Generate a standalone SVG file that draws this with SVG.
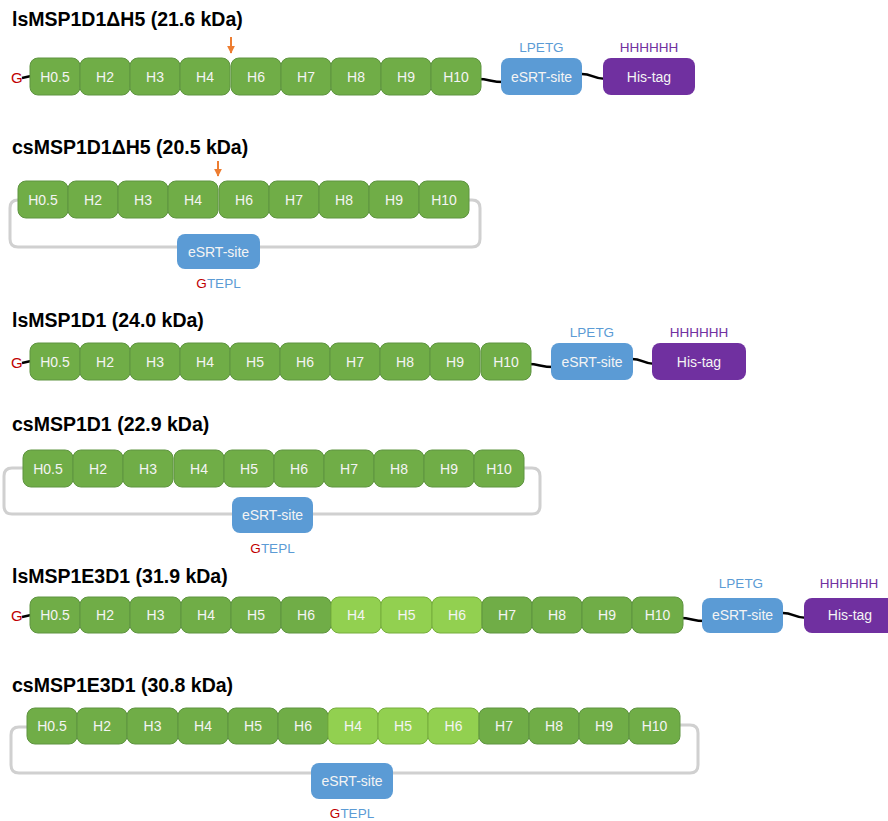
<svg xmlns="http://www.w3.org/2000/svg" width="888" height="821" viewBox="0 0 888 821">
<style>
.t{font-family:"Liberation Sans",Arial,sans-serif;font-weight:bold;font-size:19.5px;fill:#000}
.b rect{fill:#70AD47;stroke:#5E9440;stroke-width:1}
.b.l rect{fill:#92D050;stroke:#76AE3C}
.b text,.e text,.h text{font-family:"Liberation Sans",Arial,sans-serif;font-size:14px;fill:#F4F4F4;text-anchor:middle}
.e rect{fill:#5B9BD5}
.h rect{fill:#7030A0}
.e text.lab,.h text.lab{font-size:13.5px}
.e text.bl,.e tspan.bl{fill:#5B9BD5}
.h text.pu{fill:#7030A0}
.e tspan.rd{fill:#C00000}
.g{font-family:"Liberation Sans",Arial,sans-serif;font-size:15px;fill:#C00000}
.lp{fill:none;stroke:#D0D0D0;stroke-width:3}
.k{fill:none;stroke:#000;stroke-width:2.5}
.ar{stroke:#ED7D31;stroke-width:2;fill:none}
</style>
<defs>
<marker id="ah" viewBox="0 0 10 10" refX="9" refY="5" markerWidth="4" markerHeight="4" orient="auto" markerUnits="strokeWidth"><path d="M0,0 L10,5 L0,10 z" fill="#ED7D31"/></marker>
</defs>

<!-- titles -->
<text class="t" x="12" y="26">lsMSP1D1ΔH5 (21.6 kDa)</text>
<text class="t" x="12" y="154">csMSP1D1ΔH5 (20.5 kDa)</text>
<text class="t" x="12" y="327">lsMSP1D1 (24.0 kDa)</text>
<text class="t" x="12" y="431">csMSP1D1 (22.9 kDa)</text>
<text class="t" x="12" y="583">lsMSP1E3D1 (31.9 kDa)</text>
<text class="t" x="12" y="692">csMSP1E3D1 (30.8 kDa)</text>

<g id="connectors">
<path class="lp" d="M30 200 H18 Q10 200 10 208 V239 Q10 247 18 247 H472 Q480 247 480 239 V208 Q480 200 472 200 H460"/>
<path class="lp" d="M35 468 H12 Q4 468 4 476 V506 Q4 514 12 514 H532 Q540 514 540 506 V476 Q540 468 532 468 H515"/>
<path class="lp" d="M40 727 H19 Q11 727 11 735 V765 Q11 773 19 773 H690 Q698 773 698 765 V733 Q698 725 690 725 H672"/>
<path class="k" d="M22 78 L31 76"/>
<path class="k" d="M22 363 L31 361"/>
<path class="k" d="M22 617 L31 615"/>
<path class="k" d="M478 79 C490 79 490 82 504 82"/>
<path class="k" d="M580 74 C592 73 592 79 606 79"/>
<path class="k" d="M528 364 C540 364 540 367 554 367"/>
<path class="k" d="M630 359 C642 358 642 364 655 364"/>
<path class="k" d="M680 618 C692 618 692 621 705 621"/>
<path class="k" d="M781 613 C793 612 793 618 807 618"/>
<path class="ar" d="M231 37 V53" marker-end="url(#ah)"/>
<path class="ar" d="M218 161 V176" marker-end="url(#ah)"/>
</g>

<!-- Row 1 -->
<text class="g" x="11" y="83">G</text>
<g id="r1-h05" class="b"><rect x="30" y="58" width="50" height="37" rx="8"/><text x="55" y="81.5">H0.5</text></g>
<g id="r1-h2" class="b"><rect x="80" y="58" width="50" height="37" rx="8"/><text x="105" y="81.5">H2</text></g>
<g id="r1-h3" class="b"><rect x="130" y="58" width="50" height="37" rx="8"/><text x="155" y="81.5">H3</text></g>
<g id="r1-h4" class="b"><rect x="180" y="58" width="50" height="37" rx="8"/><text x="205" y="81.5">H4</text></g>
<g id="r1-h6" class="b"><rect x="231" y="58" width="50" height="37" rx="8"/><text x="256" y="81.5">H6</text></g>
<g id="r1-h7" class="b"><rect x="281" y="58" width="50" height="37" rx="8"/><text x="306" y="81.5">H7</text></g>
<g id="r1-h8" class="b"><rect x="331" y="58" width="50" height="37" rx="8"/><text x="356" y="81.5">H8</text></g>
<g id="r1-h9" class="b"><rect x="381" y="58" width="50" height="37" rx="8"/><text x="406" y="81.5">H9</text></g>
<g id="r1-h10" class="b"><rect x="431" y="58" width="50" height="37" rx="8"/><text x="456" y="81.5">H10</text></g>
<g id="r1-esrt" class="e"><rect x="501" y="58" width="81" height="37" rx="8"/><text x="541.5" y="81.5">eSRT-site</text><text class="lab bl" x="541.5" y="52">LPETG</text></g>
<g id="r1-his" class="h"><rect x="603" y="58" width="92" height="37" rx="8"/><text x="649" y="81.5">His-tag</text><text class="lab pu" x="649" y="52">HHHHHH</text></g>

<!-- Row 2 -->
<g id="r2-h05" class="b"><rect x="18" y="181" width="50" height="37" rx="8"/><text x="43" y="204.5">H0.5</text></g>
<g id="r2-h2" class="b"><rect x="68" y="181" width="50" height="37" rx="8"/><text x="93" y="204.5">H2</text></g>
<g id="r2-h3" class="b"><rect x="118" y="181" width="50" height="37" rx="8"/><text x="143" y="204.5">H3</text></g>
<g id="r2-h4" class="b"><rect x="168" y="181" width="50" height="37" rx="8"/><text x="193" y="204.5">H4</text></g>
<g id="r2-h6" class="b"><rect x="219" y="181" width="50" height="37" rx="8"/><text x="244" y="204.5">H6</text></g>
<g id="r2-h7" class="b"><rect x="269" y="181" width="50" height="37" rx="8"/><text x="294" y="204.5">H7</text></g>
<g id="r2-h8" class="b"><rect x="319" y="181" width="50" height="37" rx="8"/><text x="344" y="204.5">H8</text></g>
<g id="r2-h9" class="b"><rect x="369" y="181" width="50" height="37" rx="8"/><text x="394" y="204.5">H9</text></g>
<g id="r2-h10" class="b"><rect x="419" y="181" width="50" height="37" rx="8"/><text x="444" y="204.5">H10</text></g>
<g id="r2-esrt" class="e"><rect x="177" y="234" width="83" height="35" rx="8"/><text x="218.5" y="256.5">eSRT-site</text><text class="lab" x="218.5" y="288"><tspan class="rd">G</tspan><tspan class="bl">TEPL</tspan></text></g>

<!-- Row 3 -->
<text class="g" x="11" y="368">G</text>
<g id="r3-h05" class="b"><rect x="30" y="343" width="50" height="37" rx="8"/><text x="55" y="366.5">H0.5</text></g>
<g id="r3-h2" class="b"><rect x="80" y="343" width="50" height="37" rx="8"/><text x="105" y="366.5">H2</text></g>
<g id="r3-h3" class="b"><rect x="130" y="343" width="50" height="37" rx="8"/><text x="155" y="366.5">H3</text></g>
<g id="r3-h4" class="b"><rect x="180" y="343" width="50" height="37" rx="8"/><text x="205" y="366.5">H4</text></g>
<g id="r3-h5" class="b"><rect x="230" y="343" width="50" height="37" rx="8"/><text x="255" y="366.5">H5</text></g>
<g id="r3-h6" class="b"><rect x="280" y="343" width="50" height="37" rx="8"/><text x="305" y="366.5">H6</text></g>
<g id="r3-h7" class="b"><rect x="330" y="343" width="50" height="37" rx="8"/><text x="355" y="366.5">H7</text></g>
<g id="r3-h8" class="b"><rect x="380" y="343" width="50" height="37" rx="8"/><text x="405" y="366.5">H8</text></g>
<g id="r3-h9" class="b"><rect x="430" y="343" width="50" height="37" rx="8"/><text x="455" y="366.5">H9</text></g>
<g id="r3-h10" class="b"><rect x="481" y="343" width="50" height="37" rx="8"/><text x="506" y="366.5">H10</text></g>
<g id="r3-esrt" class="e"><rect x="551" y="343" width="82" height="37" rx="8"/><text x="592" y="366.5">eSRT-site</text><text class="lab bl" x="592" y="337">LPETG</text></g>
<g id="r3-his" class="h"><rect x="652" y="343" width="94" height="37" rx="8"/><text x="699" y="366.5">His-tag</text><text class="lab pu" x="699" y="337">HHHHHH</text></g>

<!-- Row 4 -->
<g id="r4-h05" class="b"><rect x="23" y="450" width="50" height="37" rx="8"/><text x="48" y="473.5">H0.5</text></g>
<g id="r4-h2" class="b"><rect x="73" y="450" width="50" height="37" rx="8"/><text x="98" y="473.5">H2</text></g>
<g id="r4-h3" class="b"><rect x="123" y="450" width="50" height="37" rx="8"/><text x="148" y="473.5">H3</text></g>
<g id="r4-h4" class="b"><rect x="174" y="450" width="50" height="37" rx="8"/><text x="199" y="473.5">H4</text></g>
<g id="r4-h5" class="b"><rect x="224" y="450" width="50" height="37" rx="8"/><text x="249" y="473.5">H5</text></g>
<g id="r4-h6" class="b"><rect x="274" y="450" width="50" height="37" rx="8"/><text x="299" y="473.5">H6</text></g>
<g id="r4-h7" class="b"><rect x="324" y="450" width="50" height="37" rx="8"/><text x="349" y="473.5">H7</text></g>
<g id="r4-h8" class="b"><rect x="374" y="450" width="50" height="37" rx="8"/><text x="399" y="473.5">H8</text></g>
<g id="r4-h9" class="b"><rect x="424" y="450" width="50" height="37" rx="8"/><text x="449" y="473.5">H9</text></g>
<g id="r4-h10" class="b"><rect x="474" y="450" width="50" height="37" rx="8"/><text x="499" y="473.5">H10</text></g>
<g id="r4-esrt" class="e"><rect x="232" y="497" width="81" height="36" rx="8"/><text x="272.5" y="520">eSRT-site</text><text class="lab" x="272.5" y="553"><tspan class="rd">G</tspan><tspan class="bl">TEPL</tspan></text></g>

<!-- Row 5 -->
<text class="g" x="11" y="621">G</text>
<g id="r5-h05" class="b"><rect x="30" y="597" width="50" height="36" rx="8"/><text x="55" y="620">H0.5</text></g>
<g id="r5-h2" class="b"><rect x="80" y="597" width="50" height="36" rx="8"/><text x="105" y="620">H2</text></g>
<g id="r5-h3" class="b"><rect x="130" y="597" width="51" height="36" rx="8"/><text x="155.5" y="620">H3</text></g>
<g id="r5-h4" class="b"><rect x="181" y="597" width="50" height="36" rx="8"/><text x="206" y="620">H4</text></g>
<g id="r5-h5" class="b"><rect x="231" y="597" width="50" height="36" rx="8"/><text x="256" y="620">H5</text></g>
<g id="r5-h6" class="b"><rect x="281" y="597" width="50" height="36" rx="8"/><text x="306" y="620">H6</text></g>
<g id="r5-h4b" class="b l"><rect x="331" y="597" width="50" height="36" rx="8"/><text x="356" y="620">H4</text></g>
<g id="r5-h5b" class="b l"><rect x="381" y="597" width="51" height="36" rx="8"/><text x="406.5" y="620">H5</text></g>
<g id="r5-h6b" class="b l"><rect x="432" y="597" width="50" height="36" rx="8"/><text x="457" y="620">H6</text></g>
<g id="r5-h7" class="b"><rect x="482" y="597" width="50" height="36" rx="8"/><text x="507" y="620">H7</text></g>
<g id="r5-h8" class="b"><rect x="532" y="597" width="50" height="36" rx="8"/><text x="557" y="620">H8</text></g>
<g id="r5-h9" class="b"><rect x="582" y="597" width="50" height="36" rx="8"/><text x="607" y="620">H9</text></g>
<g id="r5-h10" class="b"><rect x="632" y="597" width="51" height="36" rx="8"/><text x="657.5" y="620">H10</text></g>
<g id="r5-esrt" class="e"><rect x="702" y="598" width="81" height="35" rx="8"/><text x="742.5" y="620">eSRT-site</text><text class="lab bl" x="741" y="588">LPETG</text></g>
<g id="r5-his" class="h"><rect x="804" y="598" width="92" height="35" rx="8"/><text x="850" y="620">His-tag</text><text class="lab pu" x="849" y="588">HHHHHH</text></g>

<!-- Row 6 -->
<g id="r6-h05" class="b"><rect x="27" y="708" width="50" height="36" rx="8"/><text x="52" y="731">H0.5</text></g>
<g id="r6-h2" class="b"><rect x="77" y="708" width="50" height="36" rx="8"/><text x="102" y="731">H2</text></g>
<g id="r6-h3" class="b"><rect x="127" y="708" width="51" height="36" rx="8"/><text x="152.5" y="731">H3</text></g>
<g id="r6-h4" class="b"><rect x="178" y="708" width="50" height="36" rx="8"/><text x="203" y="731">H4</text></g>
<g id="r6-h5" class="b"><rect x="228" y="708" width="50" height="36" rx="8"/><text x="253" y="731">H5</text></g>
<g id="r6-h6" class="b"><rect x="278" y="708" width="50" height="36" rx="8"/><text x="303" y="731">H6</text></g>
<g id="r6-h4b" class="b l"><rect x="328" y="708" width="50" height="36" rx="8"/><text x="353" y="731">H4</text></g>
<g id="r6-h5b" class="b l"><rect x="378" y="708" width="50" height="36" rx="8"/><text x="403" y="731">H5</text></g>
<g id="r6-h6b" class="b l"><rect x="428" y="708" width="51" height="36" rx="8"/><text x="453.5" y="731">H6</text></g>
<g id="r6-h7" class="b"><rect x="479" y="708" width="50" height="36" rx="8"/><text x="504" y="731">H7</text></g>
<g id="r6-h8" class="b"><rect x="529" y="708" width="50" height="36" rx="8"/><text x="554" y="731">H8</text></g>
<g id="r6-h9" class="b"><rect x="579" y="708" width="50" height="36" rx="8"/><text x="604" y="731">H9</text></g>
<g id="r6-h10" class="b"><rect x="629" y="708" width="51" height="36" rx="8"/><text x="654.5" y="731">H10</text></g>
<g id="r6-esrt" class="e"><rect x="311" y="763" width="82" height="36" rx="8"/><text x="352" y="786">eSRT-site</text><text class="lab" x="352" y="818"><tspan class="rd">G</tspan><tspan class="bl">TEPL</tspan></text></g>
</svg>
